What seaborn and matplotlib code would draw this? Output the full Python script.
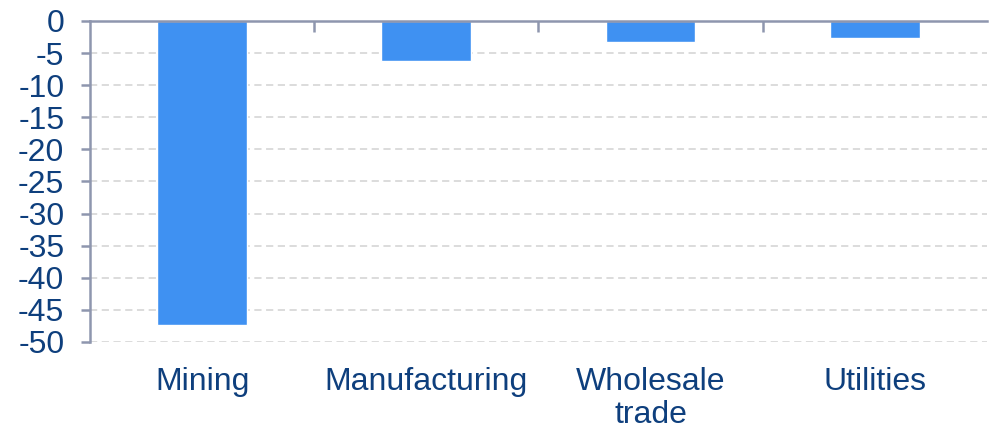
import matplotlib
matplotlib.use("Agg")
import matplotlib.pyplot as plt
import seaborn as sns
import pandas as pd
from matplotlib.ticker import FixedLocator

# Change by sector (percent)
sectors = ["Mining", "Manufacturing", "Wholesale\ntrade", "Utilities"]
values = [-47.4, -6.2, -3.2, -2.7]
y_ticks = list(range(-50, 1, 5))

bar_color = "#3F91F2"
text_color = "#0E3F7D"
axis_color = "#8E96AE"
grid_color = "#D9D9D9"

sns.set_theme(style="white")
plt.rcParams["font.family"] = ["Liberation Sans", "DejaVu Sans"]

df = pd.DataFrame({"sector": sectors, "value": values})

fig = plt.figure(figsize=(9.91, 4.30), dpi=100)
ax = fig.add_axes([0.0908, 0.2047, 0.905, 0.7465])

sns.barplot(data=df, x="sector", y="value", color=bar_color, width=0.4,
            saturation=1, ax=ax, zorder=3)

ax.set_ylim(-50, 0)
ax.set_xlim(-0.5, len(sectors) - 0.5)
ax.set_yticks(y_ticks)
ax.set_yticklabels([str(t) for t in y_ticks])
ax.set_xlabel("")
ax.set_ylabel("")

ax.yaxis.grid(True, color=grid_color, linestyle=(0, (4, 2.5)), linewidth=1.3, zorder=0)
ax.xaxis.grid(False)
ax.set_axisbelow(True)

for side in ("right", "bottom"):
    ax.spines[side].set_visible(False)
for side in ("left", "top"):
    ax.spines[side].set_color(axis_color)
    ax.spines[side].set_linewidth(1.8)
    ax.spines[side].set_zorder(4)

ax.tick_params(axis="y", which="major", direction="out", length=6.5, width=1.8,
               color=axis_color, labelsize=23, labelcolor=text_color, pad=12,
               left=True)
ax.tick_params(axis="x", which="major", length=0, labelsize=23,
               labelcolor=text_color, pad=18, bottom=True, top=False)
ax.xaxis.set_minor_locator(FixedLocator([0.5, 1.5, 2.5]))
ax.tick_params(axis="x", which="minor", direction="in", length=8, width=1.8,
               color=axis_color, top=True, bottom=False)
for lbl in ax.get_xticklabels():
    lbl.set_linespacing(1.12)

fig.savefig("out.png", dpi=100, facecolor="white")
